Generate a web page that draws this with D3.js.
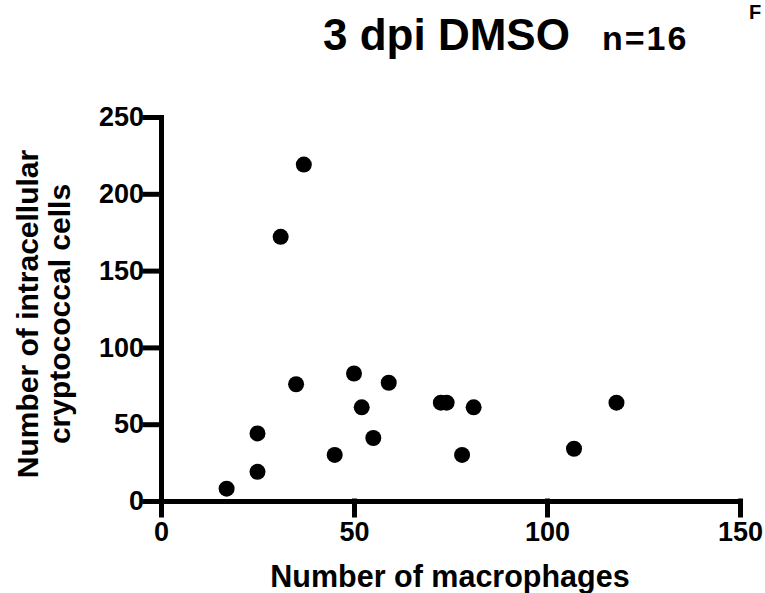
<!DOCTYPE html>
<html lang="en">
<head>
    <meta charset="UTF-8">
    <title>3 dpi DMSO</title>
    <script src="https://d3js.org/d3.v7.min.js"></script>
    <style>
        body { margin: 0; background: #fff; }
        svg { display: block; }
        text { font-family: "Liberation Sans", Arial, sans-serif; font-weight: bold; fill: #000; }
        .axis path, .axis line { stroke: #000; stroke-width: 5px; stroke-linecap: square; }
        .axis text { font-size: 27px; }
        .dot { fill: #000; }
    </style>
</head>
<body>
    <div id="chart"></div>
    <script>
        // macrophages per fish vs intracellular cryptococcal cells
        const macrophages = [37, 31, 35, 50, 59, 52, 72.5, 74, 25, 55, 45, 25, 17, 81, 78, 118, 107];
        const cryptoCells = [219, 172, 76, 83, 77, 61, 64, 64, 44, 41, 30, 19, 8, 61, 30, 64, 34];
        const xTicks = [0, 50, 100, 150];
        const yTicks = [0, 50, 100, 150, 200, 250];

        const width = 765;
        const height = 593;

        const svg = d3.select("#chart")
            .append("svg")
            .attr("width", width)
            .attr("height", height);

        const x = d3.scaleLinear().domain([0, 150]).range([161, 740]);
        const y = d3.scaleLinear().domain([0, 250]).range([501, 117]);

        const xAxis = svg.append("g")
            .attr("class", "axis")
            .attr("transform", `translate(0, ${y(0)})`)
            .call(d3.axisBottom(x).tickValues(xTicks).tickSize(14).tickSizeOuter(0).tickPadding(7));
        xAxis.selectAll(".tick line")
            .attr("y1", 0)
            .attr("y2", 14)
            .attr("stroke", "#000")
            .attr("stroke-width", 5);

        svg.append("g")
            .attr("class", "axis")
            .attr("transform", `translate(${x(0)}, 0)`)
            .call(d3.axisLeft(y).tickValues(yTicks).tickSize(16).tickSizeOuter(0).tickPadding(1));

        svg.selectAll(".axis text").attr("fill", "#000");

        const points = macrophages.map((m, i) => ({ m: m, c: cryptoCells[i] }));

        svg.selectAll(".dot")
            .data(points)
            .enter()
            .append("circle")
            .attr("class", "dot")
            .attr("cx", d => x(d.m))
            .attr("cy", d => y(d.c))
            .attr("r", 8);

        // titles
        svg.append("text").attr("x", 323).attr("y", 50).attr("font-size", 44).text("3 dpi DMSO");
        svg.append("text").attr("x", 602).attr("y", 50).attr("font-size", 34).attr("letter-spacing", 2).text("n=16");
        svg.append("text").attr("x", 749).attr("y", 19).attr("font-size", 20).text("F");

        svg.append("text")
            .attr("x", 450).attr("y", 587)
            .attr("text-anchor", "middle")
            .attr("font-size", 30.5)
            .text("Number of macrophages");

        const yTitle = svg.append("text")
            .attr("transform", "translate(38, 314) rotate(-90)")
            .attr("text-anchor", "middle")
            .attr("font-size", 30);
        yTitle.append("tspan").attr("x", 0).attr("y", 0).text("Number of intracellular");
        yTitle.append("tspan").attr("x", 0).attr("y", 32).text("cryptococcal cells");
    </script>
</body>
</html>
